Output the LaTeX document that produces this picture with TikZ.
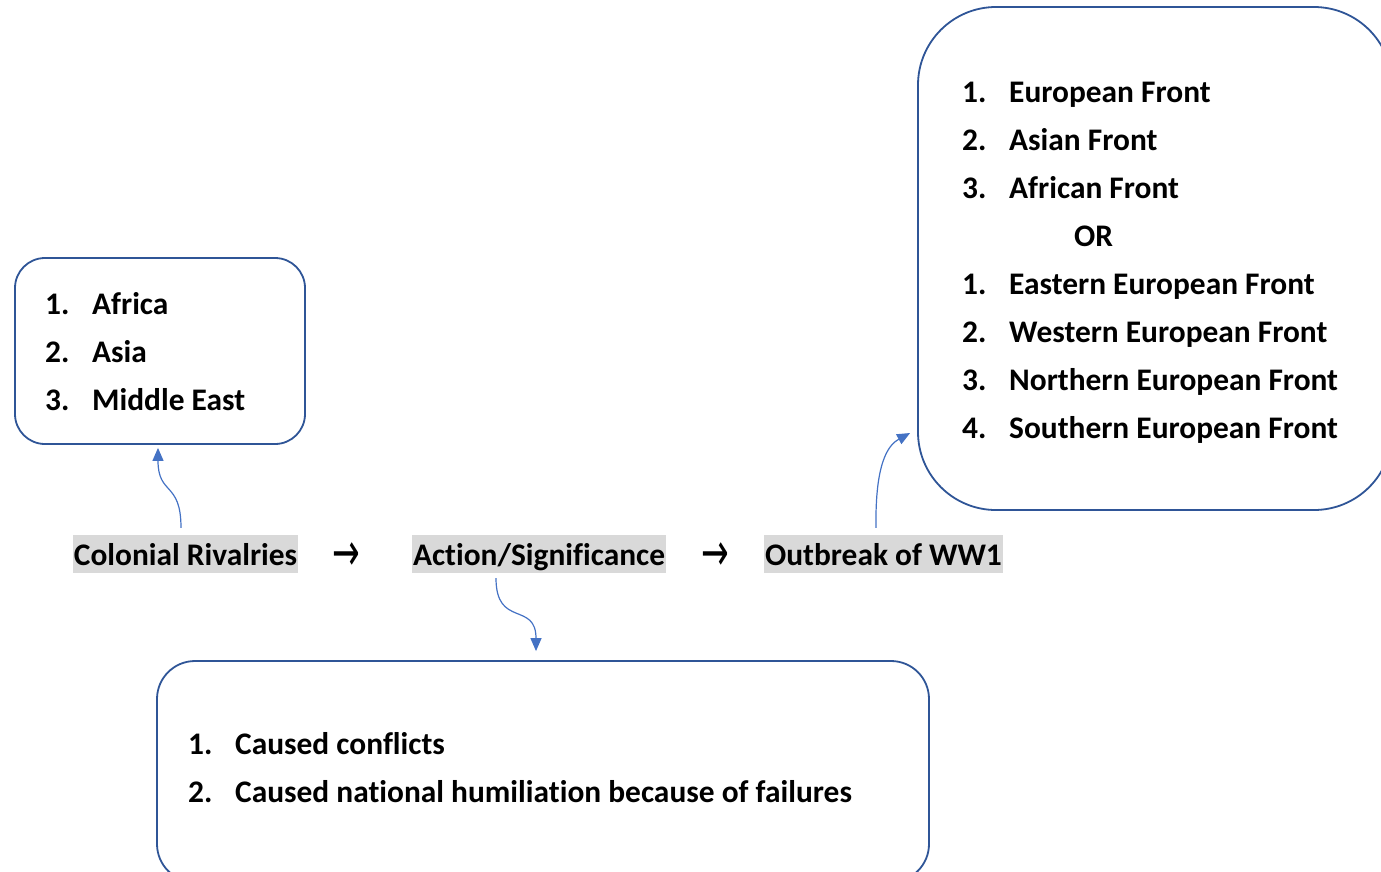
\documentclass[tikz,border=0pt]{standalone}
\usepackage{fontspec}
\setmainfont{Carlito}[Ligatures=NoCommon]
\newfontfamily\symfont{DejaVu Sans}
\usetikzlibrary{arrows.meta,calc}
\definecolor{boxline}{HTML}{2F5597}
\definecolor{linkblue}{HTML}{4472C4}
\definecolor{hlgray}{HTML}{D9D9D9}
% one numbered entry: number in a fixed-width column, then the text
\newcommand\listitem[2]{\rule{0pt}{24pt}\makebox[47pt][l]{#1}#2}
% tall arrow glyph for the main chain
\newcommand\chainarrow{\scalebox{1}[1.6]{→}}
\begin{document}
\begin{tikzpicture}[x=1pt,y=-1pt,
  roundbox/.style={draw=boxline,line width=1.8pt,inner sep=0pt,fill=white},
  listtext/.style={anchor=north west,inner sep=0pt,align=left,
    font=\fontsize{31.4}{48}\selectfont\bfseries},
  tag/.style={anchor=base,fill=hlgray,inner xsep=1pt,inner ysep=0pt,
    text height=30pt,text depth=8pt,font=\fontsize{31.4}{38}\selectfont\bfseries},
  flowarrow/.style={anchor=base,inner sep=0pt,font=\symfont\fontsize{33}{40}\selectfont},
  linkline/.style={draw=linkblue,line width=1.2pt,-{Triangle[length=13pt,width=11pt]}}]
\useasboundingbox (0,0) rectangle (1381,871);
\clip (0,0) rectangle (1381,871);

% colonial regions
\node[roundbox,rounded corners=30pt,minimum width=290pt,minimum height=186pt]
  (regions) at (160,351) {};
\node[listtext] (regionlist) at (45,290)
  {\listitem{1.}{Africa}\\ \listitem{2.}{Asia}\\ \listitem{3.}{Middle East}};

% war fronts
\node[roundbox,rounded corners=78pt,minimum width=474pt,minimum height=503pt]
  (fronts) at (1155,258.5) {};
\node[listtext] (frontlist) at (962,78)
  {\listitem{1.}{European Front}\\
   \listitem{2.}{Asian Front}\\
   \listitem{3.}{African Front}\\
   \rule{0pt}{24pt}\hspace*{112pt}OR\\
   \listitem{1.}{Eastern European Front}\\
   \listitem{2.}{Western European Front}\\
   \listitem{3.}{Northern European Front}\\
   \listitem{4.}{Southern European Front}};

% consequences
\node[roundbox,rounded corners=38pt,minimum width=772pt,minimum height=221pt]
  (effects) at (543,771.5) {};
\node[listtext] (effectlist) at (188,730)
  {\listitem{1.}{Caused conflicts}\\
   \listitem{2.}{Caused national humiliation because of failures}};

% main chain
\node[tag] (colonial) at (185.5,565) {Colonial Rivalries};
\node[flowarrow] (arrowA) at (346,570) {\chainarrow};
\node[tag] (action) at (539,565) {Action/Significance};
\node[flowarrow] (arrowB) at (715,570) {\chainarrow};
\node[tag] (outbreak) at (883.5,565) {Outbreak of WW1};

% curved links
\coordinate (c1a) at ($(colonial.north)+(-4.5,-7)$);
\coordinate (c1b) at ($(regions.south)+(-2,3)$);
\draw[linkline] (c1a) .. controls +(0,-47) and +(0,48) .. (c1b);

\coordinate (c2a) at ($(action.south)+(-43,5)$);
\coordinate (c2b) at ($(effects.north)+(-7,-9)$);
\draw[linkline] (c2a) .. controls +(0,50) and +(0,-50) .. (c2b);

\coordinate (c3a) at ($(outbreak.north)+(-7.5,-7)$);
\coordinate (c3b) at ($(fronts.west)+(-7,174.5)$);
\draw[linkline] (c3a) .. controls +(-1,-65) and +(-22,12) .. (c3b);
\end{tikzpicture}
\end{document}
